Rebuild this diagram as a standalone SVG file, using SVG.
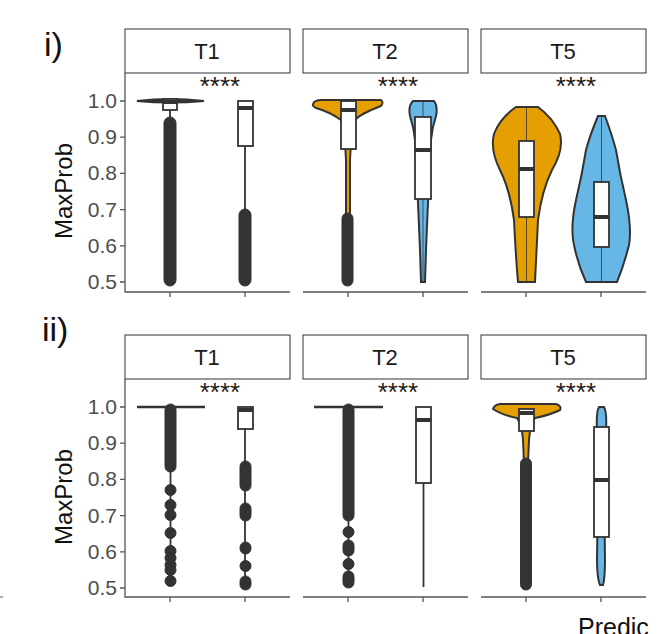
<svg xmlns="http://www.w3.org/2000/svg" width="659" height="634" viewBox="0 0 659 634">
<style>
text{font-family:"Liberation Sans",Arial,sans-serif}
.strip{fill:#fff;stroke:#333;stroke-width:1}
.st{font-size:22px;text-anchor:middle;fill:#1a1a1a}
.sig{font-size:26px;text-anchor:middle;fill:#1a1a1a}
.yl{font-size:21px;text-anchor:end;fill:#4d4d4d}
.ax{stroke:#555;stroke-width:1.3;fill:none}
.o{fill:#E69F00;stroke:#333;stroke-width:2}
.b{fill:#67B7E6;stroke:#333;stroke-width:2}
.box{fill:#fff;stroke:#333;stroke-width:1.8}
.med{stroke:#333;stroke-width:4}
.wh{stroke:#333;stroke-width:1.8}
.dk{fill:#333;stroke:#333}
.cl{stroke:#333;stroke-width:0.8}
</style>
<text x="44" y="56" font-size="34" fill="#111">i)</text>
<text x="42" y="341" font-size="34" fill="#111">ii)</text>
<text x="578" y="636" font-size="25" fill="#111">Predic</text>
<line x1="0" y1="597" x2="3" y2="597" stroke="#555"/>

<g id="panel-i">
<rect class="strip" x="125" y="29" width="165" height="44"/><text class="st" x="207" y="59">T1</text>
<rect class="strip" x="303" y="29" width="165" height="44"/><text class="st" x="385" y="59">T2</text>
<rect class="strip" x="481" y="29" width="165" height="44"/><text class="st" x="563" y="59">T5</text>
<text class="sig" x="220" y="95">****</text><text class="sig" x="398" y="95">****</text><text class="sig" x="576" y="95">****</text>
<path class="ax" d="M125 73V292H290M303 292H468M481 292H646"/>
<path class="ax" d="M120 101H125M120 137.2H125M120 173.4H125M120 209.6H125M120 245.8H125M120 282H125M170 292v5M245 292v5M348 292v5M423 292v5M526 292v5M601 292v5"/>
<g class="yl"><text x="117" y="108">1.0</text><text x="117" y="144">0.9</text><text x="117" y="180">0.8</text><text x="117" y="217">0.7</text><text x="117" y="253">0.6</text><text x="117" y="289">0.5</text></g>
<text x="0" y="0" font-size="24" fill="#111" text-anchor="middle" transform="translate(72,191) rotate(-90)">MaxProb</text>
<path d="M137 101Q170 97 204 101Q170 104 137 101Z" class="dk" stroke-width="2"/>
<line class="wh" x1="170" y1="108" x2="170" y2="120"/>
<rect class="dk" x="164" y="117" width="12" height="169" rx="6"/>
<rect class="box" x="163" y="99" width="14" height="11"/><line class="med" x1="163" y1="102" x2="177" y2="102"/>
<line class="wh" x1="245" y1="146" x2="245" y2="213"/>
<rect class="dk" x="239" y="209" width="12" height="77" rx="6"/>
<rect class="box" x="238" y="101" width="15" height="45"/><line class="med" x1="238" y1="108" x2="253" y2="108"/>
<path class="o" d="M313 104Q314 100 322 100H381Q384 102 381 106Q360 114 355 120Q351 135 350 160L350 215H346L346 160Q345 135 341 120Q330 112 316 108Q312 106 313 104Z"/>
<rect class="dk" x="342" y="213" width="11" height="73" rx="5.5"/>
<rect class="box" x="341" y="101" width="15" height="48"/><line class="med" x1="341" y1="110" x2="356" y2="110"/>
<path class="b" d="M413 101H434Q438 106 436 116Q432 128 431 140Q428 200 426 250L425 282H421L420 250Q418 200 415 140Q414 128 410 116Q408 106 413 101Z"/>
<line class="cl" x1="423" y1="101" x2="423" y2="282"/>
<rect class="box" x="415" y="117" width="16" height="82"/><line class="med" x1="415" y1="150" x2="431" y2="150"/>
<path class="o" d="M516 107H538Q553 118 560 134Q564 150 552 170Q542 190 538 220Q536 260 535 282H518Q516 260 514 220Q510 190 500 170Q490 150 494 134Q500 118 516 107Z"/>
<line class="cl" x1="526.5" y1="107" x2="526.5" y2="282"/>
<rect class="box" x="519" y="141" width="15" height="76"/><line class="med" x1="519" y1="169" x2="534" y2="169"/>
<path class="b" d="M598 116H605Q612 135 616 150Q620 175 626 200Q632 228 629 245Q624 265 617 282H586Q578 265 574 245Q570 228 576 200Q582 175 586 150Q590 135 598 116Z"/>
<line class="cl" x1="601.5" y1="116" x2="601.5" y2="282"/>
<rect class="box" x="594" y="182" width="15" height="65"/><line class="med" x1="594" y1="217" x2="609" y2="217"/>
</g>

<g id="panel-ii">
<rect class="strip" x="125" y="335" width="165" height="44"/><text class="st" x="207" y="365">T1</text>
<rect class="strip" x="303" y="335" width="165" height="44"/><text class="st" x="385" y="365">T2</text>
<rect class="strip" x="481" y="335" width="165" height="44"/><text class="st" x="563" y="365">T5</text>
<text class="sig" x="220" y="401">****</text><text class="sig" x="398" y="401">****</text><text class="sig" x="576" y="401">****</text>
<path class="ax" d="M125 379V597H290M303 597H468M481 597H646"/>
<path class="ax" d="M120 407H125M120 443.2H125M120 479.4H125M120 515.6H125M120 551.8H125M120 588H125M170 597v5M245 597v5M348 597v5M423 597v5M526 597v5M601 597v5"/>
<g class="yl"><text x="117" y="414">1.0</text><text x="117" y="450">0.9</text><text x="117" y="486">0.8</text><text x="117" y="523">0.7</text><text x="117" y="559">0.6</text><text x="117" y="595">0.5</text></g>
<text x="0" y="0" font-size="24" fill="#111" text-anchor="middle" transform="translate(72,497) rotate(-90)">MaxProb</text>
<line class="wh" x1="137" y1="407" x2="205" y2="407" style="stroke-width:2.5"/>
<line class="wh" x1="170.5" y1="407" x2="170.5" y2="580"/>
<rect class="dk" x="165" y="404" width="11" height="68" rx="5.5"/>
<g class="dk"><circle cx="170.5" cy="490" r="5.5"/><circle cx="170.5" cy="505" r="5.5"/><circle cx="170.5" cy="515" r="5.5"/><circle cx="170.5" cy="533" r="5.5"/><circle cx="170.5" cy="551" r="5.5"/><circle cx="170.5" cy="558" r="5.5"/><circle cx="170.5" cy="565" r="5.5"/><circle cx="170.5" cy="570" r="5.5"/><circle cx="170.5" cy="581" r="5.5"/></g>
<line class="wh" x1="245" y1="429" x2="245" y2="585"/>
<g class="dk"><rect x="240" y="461" width="11" height="30" rx="5.5"/><rect x="240" y="503" width="11" height="18" rx="5.5"/><rect x="240" y="542" width="11" height="12" rx="5.5"/><circle cx="245.5" cy="566" r="5.5"/><rect x="240" y="576" width="11" height="14" rx="5.5"/></g>
<rect class="box" x="238" y="407" width="15" height="22"/><line class="med" x1="238" y1="410" x2="253" y2="410"/>
<line class="wh" x1="314" y1="407" x2="383" y2="407" style="stroke-width:2.5"/>
<line class="wh" x1="348.5" y1="407" x2="348.5" y2="585"/>
<rect class="dk" x="343" y="404" width="11" height="117" rx="5.5"/>
<g class="dk"><circle cx="348.5" cy="532" r="5.5"/><rect x="343" y="540" width="11" height="16" rx="5.5"/><circle cx="348.5" cy="564" r="5.5"/><rect x="343" y="571" width="11" height="17" rx="5.5"/></g>
<line class="wh" x1="423.5" y1="483" x2="423.5" y2="587"/>
<rect class="box" x="416" y="407" width="15" height="76"/><line class="med" x1="416" y1="420" x2="431" y2="420"/>
<path class="o" d="M493 409Q494 405 500 404H556Q562 406 560 410Q550 415 535 418Q530 425 529 440L528 462H524L523 440Q522 425 517 418Q502 415 493 409Z"/>
<rect class="dk" x="520.5" y="458" width="11" height="132" rx="5.5"/>
<rect class="box" x="519" y="409" width="15" height="22"/><line class="med" x1="519" y1="413" x2="534" y2="413"/>
<path class="b" d="M599 407H604Q607 412 606 430Q604 500 605 560Q605 578 603 585H600Q597 578 597 560Q598 500 597 430Q596 412 599 407Z"/>
<rect class="box" x="594" y="427" width="15" height="110"/><line class="med" x1="594" y1="480" x2="609" y2="480"/>
</g>
</svg>
